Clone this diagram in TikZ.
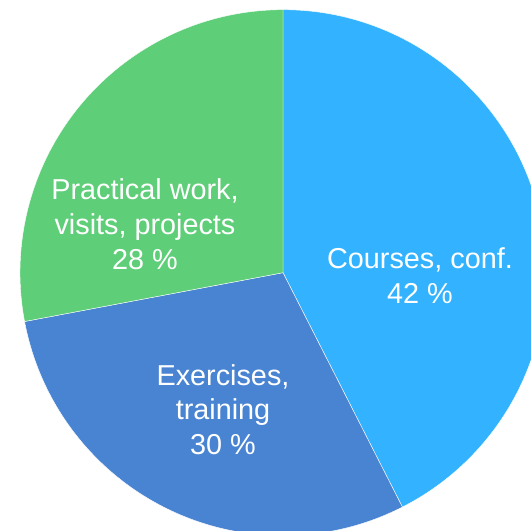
\documentclass[tikz,border=0pt]{standalone}
\usepackage{fontspec}
\setmainfont{Liberation Sans}
\definecolor{cblue}{RGB}{51,179,255}
\definecolor{mblue}{RGB}{73,132,210}
\definecolor{cgreen}{RGB}{94,206,120}
\tikzset{
  slice/.style={draw=white, line width=0.4pt, line join=round},
  lbl/.style={text=white, align=center, font=\fontsize{28.8}{34.6}\selectfont, inner sep=0pt}
}
\begin{document}
\begin{tikzpicture}[x=1pt,y=1pt]
\useasboundingbox (0,0) rectangle (531,531);
\clip (0,0) rectangle (531,531);
\coordinate (c) at (283,258.3);
\def\R{263}
\fill[cblue, slice] (c) -- ++(90:\R) arc[start angle=90, end angle=-63, radius=\R] -- cycle;
\fill[mblue, slice] (c) -- ++(-63:\R) arc[start angle=-63, end angle=-169.3, radius=\R] -- cycle;
\fill[cgreen, slice] (c) -- ++(-169.3:\R) arc[start angle=-169.3, end angle=-270, radius=\R] -- cycle;
\node[lbl] (courses) at (420,255.5) {Courses, conf.\\42 \%};
\node[lbl] (exercises) at (223,121.5) {Exercises,\\training\\30 \%};
\node[lbl] (practical) at (145,306.8) {Practical work,\\visits, projects\\28 \%};
\end{tikzpicture}
\end{document}
